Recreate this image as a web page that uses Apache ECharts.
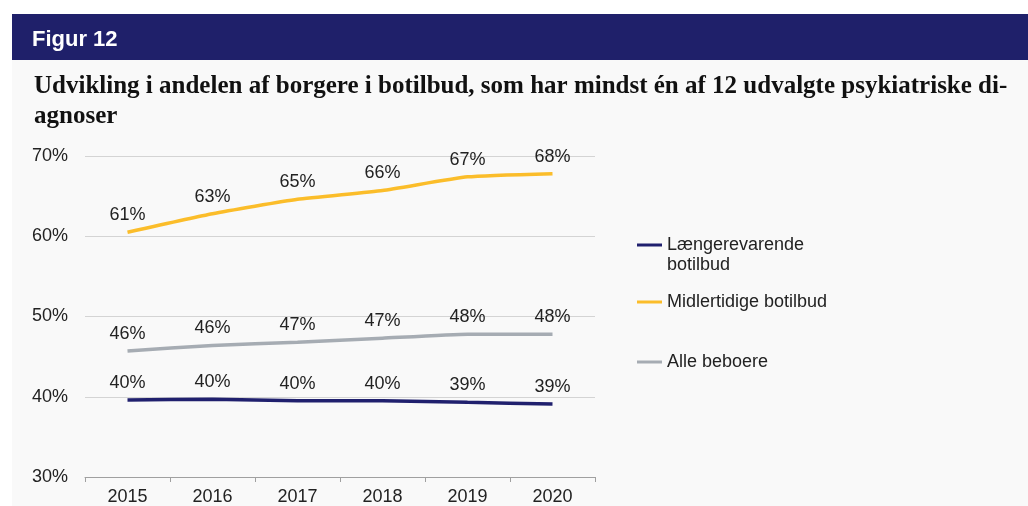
<!DOCTYPE html>
<html><head><meta charset="utf-8">
<script src="https://cdn.jsdelivr.net/npm/echarts@6/dist/echarts.min.js"></script>
<style>html,body{margin:0;padding:0;background:#fff}#c{width:1028px;height:506px}</style>
</head><body><div id="c"></div>
<script>
const years = ['2015','2016','2017','2018','2019','2020'];
const laengere = [39.6, 39.7, 39.5, 39.5, 39.3, 39.1];
const midlertidige = [60.5, 62.8, 64.6, 65.7, 67.4, 67.8];
const alle = [45.7, 46.4, 46.8, 47.3, 47.8, 47.8];
const seriesNames = ['Længerevarende botilbud', 'Midlertidige botilbud', 'Alle beboere'];
const colors = ['#20206e', '#fbbd2a', '#a6acb3'];
const yTicks = [30, 40, 50, 60, 70];

const FONT = 'Liberation Sans, Arial, sans-serif';
const chart = echarts.init(document.getElementById('c'), null, {renderer: 'canvas'});
const labelCfg = {show: true, position: 'top', distance: 8, color: '#222', fontSize: 18, fontFamily: FONT, formatter: p => Math.round(p.value) + '%'};
function mk(name, data, color) {
  return {name, type: 'line', data, symbol: 'circle', symbolSize: 0, showSymbol: true, smooth: 0.15,
    lineStyle: {color, width: 3.5}, itemStyle: {color}, label: labelCfg, z: 3};
}
const legendBase = {orient: 'vertical', left: 632, icon: 'rect', itemWidth: 25, itemHeight: 3, itemGap: 0,
  textStyle: {fontSize: 18, color: '#222', fontFamily: FONT}, selectedMode: false};
chart.setOption({
  backgroundColor: '#ffffff',
  animation: false,
  graphic: [
    {type: 'rect', shape: {x: 12, y: 60, width: 1016, height: 446}, style: {fill: '#f9f9f9'}, z: -10},
    {type: 'rect', shape: {x: 12, y: 14, width: 1016, height: 46}, style: {fill: '#1f206a'}, z: -10},
    {type: 'text', left: 32, top: 29, style: {text: 'Figur 12', fill: '#ffffff', font: 'bold 22px "Liberation Sans", Arial, sans-serif'}},
    {type: 'text', left: 34, top: 72, style: {text: 'Udvikling i andelen af borgere i botilbud, som har mindst én af 12 udvalgte psykiatriske di-\nagnoser', fill: '#111', font: 'bold 25px "Liberation Serif", "Times New Roman", serif', lineHeight: 30}},
    {type: 'text', left: 667, top: 256, style: {text: 'botilbud', fill: '#222', font: '18px "Liberation Sans", Arial, sans-serif'}}
  ],
  grid: {left: 85, right: 433, top: 156, bottom: 29, containLabel: false},
  xAxis: {type: 'category', data: years, boundaryGap: true,
    axisLine: {lineStyle: {color: '#a0a0a0', width: 1}},
    axisTick: {show: true, length: 5, lineStyle: {color: '#a0a0a0'}},
    axisLabel: {color: '#222', fontSize: 18, margin: 11, fontFamily: FONT}},
  yAxis: {type: 'value', min: 30, max: 70, interval: 10,
    axisLine: {show: false}, axisTick: {show: false},
    splitLine: {lineStyle: {color: '#d4d4d4', width: 1}},
    axisLabel: {color: '#222', fontSize: 18, margin: 17, fontFamily: FONT, formatter: v => yTicks.includes(v) ? v + '%' : ''}},
  legend: [
    Object.assign({}, legendBase, {top: 231, data: [seriesNames[0]], formatter: () => 'Længerevarende'}),
    Object.assign({}, legendBase, {top: 288, data: [seriesNames[1]]}),
    Object.assign({}, legendBase, {top: 348, data: [seriesNames[2]]})
  ],
  series: [
    mk(seriesNames[0], laengere, colors[0]),
    mk(seriesNames[1], midlertidige, colors[1]),
    mk(seriesNames[2], alle, colors[2])
  ]
});
</script></body></html>
